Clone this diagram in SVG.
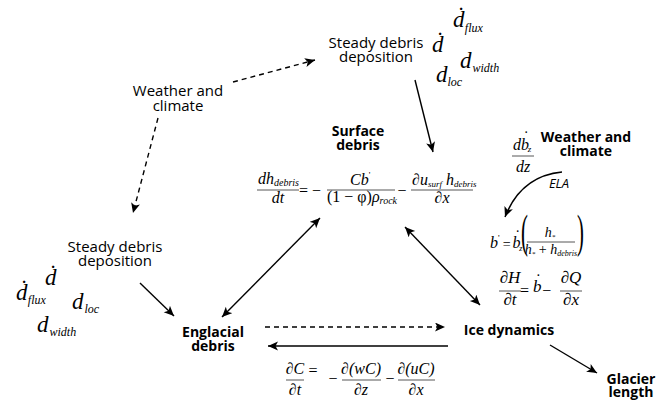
<svg xmlns="http://www.w3.org/2000/svg" width="667" height="401" viewBox="0 0 667 401">
<style>
.lbl{font-family:"Open Sans","Liberation Sans",sans-serif;font-size:15px;text-anchor:middle;fill:#000}
.b{font-weight:bold;font-size:14px}
.m{font-family:"Liberation Serif",serif;font-style:italic;fill:#000}
.u{font-family:"Liberation Serif",serif;fill:#000}
.n{font-style:normal}
.c{text-anchor:middle}
.bar{stroke:#444;stroke-width:0.9}
.ln{stroke:#000;stroke-width:1.4;fill:none}
.ar{marker-end:url(#ah)}
.dbl{marker-start:url(#ah);marker-end:url(#ah)}
.dash{stroke-dasharray:5 4}
</style>
<defs>
<marker id="ah" markerUnits="userSpaceOnUse" markerWidth="12" markerHeight="10" refX="10" refY="4.5" orient="auto-start-reverse">
<path d="M0,0 L10,4.5 L0,9 L2.5,4.5 z" fill="#000"/>
</marker>
</defs>
<rect width="667" height="401" fill="#fff"/>

<g id="connectors">
<path class="ln ar dash" d="M233,82 L315,60"/>
<path class="ln ar dash" d="M158,118 L133,213"/>
<path class="ln ar" d="M415,80 L433,152"/>
<path class="ln ar" d="M140,283 L174,316"/>
<path class="ln dbl" d="M222,317 L320,218"/>
<path class="ln dbl" d="M405,227 L480,305"/>
<path class="ln ar dash" d="M265,327 L445,327"/>
<path class="ln ar" d="M448,346 L268,346"/>
<path class="ln ar" d="M550,345 L597,373"/>
<path class="ln ar" d="M562,172 Q521,176 505,217"/>
</g>

<g id="weather-left">
<text class="lbl" x="178" y="96">Weather and</text>
<text class="lbl" x="178" y="111">climate</text>
</g>

<g id="steady-top">
<text class="lbl" x="376" y="48">Steady debris</text>
<text class="lbl" x="376" y="62">deposition</text>
<text class="m" x="432" y="52" font-size="23">d<tspan class="n" dx="-7.3" dy="-4">˙</tspan></text>
<text class="m" x="453" y="27" font-size="23">d<tspan class="n" dx="-7.3" dy="-4">˙</tspan><tspan font-size="12" dx="0" dy="9">flux</tspan></text>
<text class="m" x="460" y="68" font-size="23">d<tspan font-size="12" dx="1" dy="4">width</tspan></text>
<text class="m" x="436" y="82" font-size="23">d<tspan font-size="12" dx="0" dy="4">loc</tspan></text>
</g>

<g id="steady-left">
<text class="lbl" x="115" y="252">Steady debris</text>
<text class="lbl" x="115" y="266">deposition</text>
<text class="m" x="45" y="285" font-size="23">d<tspan class="n" dx="-7.3" dy="-4">˙</tspan></text>
<text class="m" x="16" y="300" font-size="23">d<tspan class="n" dx="-7.3" dy="-4">˙</tspan><tspan font-size="12" dx="0" dy="8">flux</tspan></text>
<text class="m" x="72" y="309" font-size="23">d<tspan font-size="12" dx="1" dy="4">loc</tspan></text>
<text class="m" x="37" y="332" font-size="23">d<tspan font-size="12" dx="1" dy="4">width</tspan></text>
</g>

<g id="surface-debris">
<text class="lbl b" x="358" y="136">Surface</text>
<text class="lbl b" x="358" y="150">debris</text>
<text class="m" x="258" y="184" font-size="16">dh<tspan font-size="10" dy="2">debris</tspan></text>
<line class="bar" x1="257" y1="190" x2="299" y2="190"/>
<text class="m c" x="278" y="203" font-size="16">dt</text>
<text class="u" x="299" y="196" font-size="16">= −</text>
<text class="m" x="350" y="185" font-size="16">Cb<tspan class="n" font-size="9" dy="-7">'</tspan></text>
<line class="bar" x1="327" y1="190" x2="395" y2="190"/>
<text class="u" x="327" y="202" font-size="16">(1 − φ)<tspan class="m">ρ</tspan><tspan class="m" font-size="10" dy="2">rock</tspan></text>
<text class="u c" x="402" y="196" font-size="16">−</text>
<text class="m" x="412" y="185" font-size="16">∂u<tspan font-size="9" dy="2">surf</tspan><tspan dy="-2"> h</tspan><tspan font-size="9" dy="2">debris</tspan></text>
<line class="bar" x1="411" y1="190" x2="473" y2="190"/>
<text class="m c" x="442" y="203" font-size="16">∂x</text>
</g>

<g id="weather-right">
<text class="lbl b" x="586" y="142">Weather and</text>
<text class="lbl b" x="586" y="156">climate</text>
<text class="m" x="513" y="150" font-size="16">db<tspan class="n" dx="-5.5" dy="-8">˙</tspan><tspan font-size="9" dx="-1" dy="10">z</tspan></text>
<line class="bar" x1="512" y1="156" x2="534" y2="156"/>
<text class="m c" x="523" y="172" font-size="16">dz</text>
<text x="559" y="188" font-family="Open Sans, Liberation Sans, sans-serif" font-style="italic" font-size="13" text-anchor="middle">ELA</text>
</g>

<g id="mass-balance">
<text class="m" x="490" y="248" font-size="16">b<tspan class="n" font-size="9" dy="-7">'</tspan><tspan class="n" font-size="14" dx="3" dy="8">=</tspan><tspan dx="2" dy="-1">b</tspan><tspan class="n" dx="-5.5" dy="-7">˙</tspan><tspan font-size="8" dx="-1" dy="10">z</tspan></text>
<text class="u" transform="translate(521,247) scale(0.45,1)" font-size="46">(</text>
<text class="m c" x="550" y="237" font-size="14">h<tspan font-size="7" dy="2">*</tspan></text>
<line class="bar" x1="527" y1="242" x2="575" y2="242"/>
<text class="m c" x="551" y="254" font-size="14">h<tspan font-size="7" dy="2">*</tspan><tspan class="n" dy="-2"> + </tspan>h<tspan font-size="8" dy="2">debris</tspan></text>
<text class="u" transform="translate(577,247) scale(0.45,1)" font-size="46">)</text>
</g>

<g id="ice-continuity">
<text class="m c" x="510" y="283" font-size="17">∂H</text>
<line class="bar" x1="499" y1="291" x2="521" y2="291"/>
<text class="m c" x="510" y="305" font-size="17">∂t</text>
<text class="m" x="520" y="296" font-size="17"><tspan class="n" font-size="16">= </tspan><tspan dy="-4">b</tspan><tspan class="n" dx="-6" dy="-7">˙</tspan><tspan class="n" font-size="16" dx="1" dy="11">−</tspan></text>
<text class="m c" x="571" y="283" font-size="17">∂Q</text>
<line class="bar" x1="560" y1="291" x2="582" y2="291"/>
<text class="m c" x="571" y="305" font-size="17">∂x</text>
</g>

<g id="englacial-debris">
<text class="lbl b" x="213" y="337">Englacial</text>
<text class="lbl b" x="213" y="351">debris</text>
</g>

<g id="ice-dynamics">
<text class="lbl b" x="509" y="335">Ice dynamics</text>
</g>

<g id="glacier-length">
<text class="lbl b" x="631" y="384">Glacier</text>
<text class="lbl b" x="631" y="397">length</text>
</g>

<g id="englacial-eq">
<text class="m c" x="295" y="374" font-size="16">∂C</text>
<line class="bar" x1="286" y1="380" x2="304" y2="380"/>
<text class="m c" x="295" y="395" font-size="16">∂t</text>
<text class="u c" x="313" y="376" font-size="16">=</text>
<text class="u c" x="333" y="384" font-size="16">−</text>
<text class="m c" x="361" y="374" font-size="16">∂(wC)</text>
<line class="bar" x1="342" y1="380" x2="381" y2="380"/>
<text class="m c" x="361" y="395" font-size="16">∂z</text>
<text class="u c" x="390" y="384" font-size="16">−</text>
<text class="m c" x="416" y="374" font-size="16">∂(uC)</text>
<line class="bar" x1="398" y1="380" x2="435" y2="380"/>
<text class="m c" x="416" y="395" font-size="16">∂x</text>
</g>
</svg>
